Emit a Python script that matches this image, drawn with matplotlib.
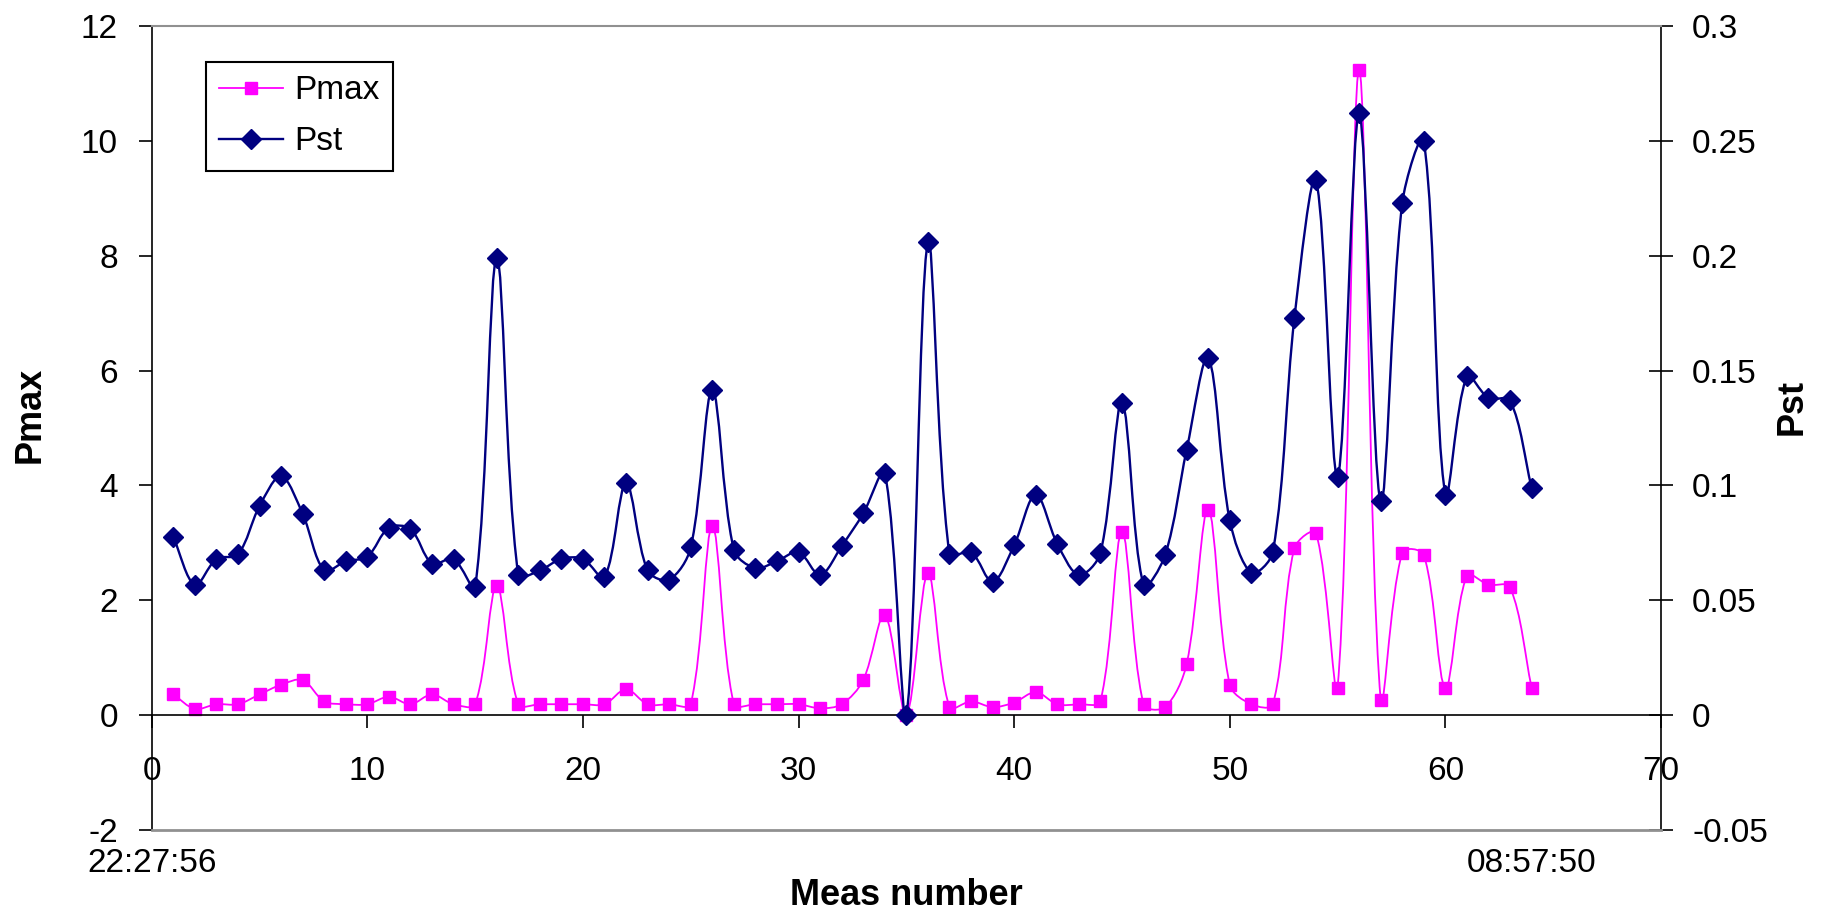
import numpy as np
import matplotlib
matplotlib.use('Agg')
import matplotlib.pyplot as plt
from matplotlib.path import Path
from matplotlib.patches import PathPatch
from matplotlib.lines import Line2D
from matplotlib.ticker import FormatStrFormatter
import matplotlib.transforms as mtransforms

plt.rcParams['font.family'] = ['Liberation Sans', 'DejaVu Sans']
plt.rcParams['axes.unicode_minus'] = False

meas = list(range(1, 65))

pmax = [0.36, 0.11, 0.19, 0.19, 0.36, 0.53, 0.61, 0.24, 0.19, 0.19,
        0.32, 0.19, 0.36, 0.19, 0.19, 2.25, 0.19, 0.19, 0.19, 0.19,
        0.19, 0.45, 0.19, 0.19, 0.19, 3.29, 0.19, 0.19, 0.19, 0.19,
        0.12, 0.19, 0.61, 1.75, 0.0, 2.47, 0.14, 0.24, 0.14, 0.22,
        0.40, 0.19, 0.19, 0.24, 3.19, 0.19, 0.14, 0.89, 3.58, 0.53,
        0.19, 0.19, 2.91, 3.17, 0.48, 11.23, 0.27, 2.83, 2.79, 0.48,
        2.43, 2.27, 2.23, 0.48]

pst = [0.0776, 0.0567, 0.068, 0.070, 0.091, 0.104, 0.0876, 0.063, 0.067, 0.069,
       0.0816, 0.081, 0.066, 0.068, 0.0557, 0.199, 0.061, 0.063, 0.068, 0.068,
       0.060, 0.101, 0.063, 0.059, 0.073, 0.1415, 0.072, 0.064, 0.067, 0.071,
       0.061, 0.0736, 0.0878, 0.1055, 0.0, 0.206, 0.070, 0.071, 0.058, 0.074,
       0.096, 0.0746, 0.061, 0.0706, 0.136, 0.0567, 0.0696, 0.1155, 0.1556, 0.0848,
       0.062, 0.071, 0.173, 0.233, 0.1036, 0.262, 0.093, 0.223, 0.250, 0.096,
       0.1475, 0.138, 0.137, 0.099]

time_labels = ["22:27:56", "08:57:50"]
time_pos = [0, 64]

PINK = '#FF00FF'
NAVY = '#000080'


def smooth_path(axis, x, y):
    # Excel style smoothed line, worked out in screen space so that
    # the handles shrink next to short segments (less overshoot)
    trans = axis.transData
    p = trans.transform(np.column_stack([x, y]))
    n = len(p)
    before = np.zeros_like(p)
    after = np.zeros_like(p)
    for i in range(n):
        prev = p[i - 1] if i > 0 else p[i]
        nxt = p[i + 1] if i < n - 1 else p[i]
        d1 = np.hypot(*(p[i] - prev))
        d2 = np.hypot(*(nxt - p[i]))
        tang = nxt - prev
        if d1 + d2 == 0:
            before[i] = after[i] = p[i]
            continue
        before[i] = p[i] - tang * d1 / (d1 + d2) / 3.0
        after[i] = p[i] + tang * d2 / (d1 + d2) / 3.0
    verts = [p[0]]
    codes = [Path.MOVETO]
    for i in range(n - 1):
        verts += [after[i], before[i + 1], p[i + 1]]
        codes += [Path.CURVE4] * 3
    inv = trans.inverted()
    return Path(inv.transform(np.array(verts)), codes)


fig = plt.figure(figsize=(18.48, 9.14), dpi=100)
ax = fig.add_axes([0.0821, 0.0919, 0.8167, 0.8797])
ax2 = ax.twinx()

ax.set_xlim(0, 70)
ax.set_ylim(-2, 12)
ax2.set_ylim(-0.05, 0.3)

# Pmax on the primary axis
ax.add_patch(PathPatch(smooth_path(ax, meas, pmax), fill=False, edgecolor=PINK, lw=1.3))
ax.plot(meas, pmax, linestyle='none', marker='s', ms=9, color=PINK)

# Pst on the secondary axis
ax2.add_patch(PathPatch(smooth_path(ax2, meas, pst), fill=False, edgecolor=NAVY, lw=1.7))
ax2.plot(meas, pst, linestyle='none', marker='D', ms=10, color=NAVY)

ax.set_xlim(0, 70)
ax.set_ylim(-2, 12)
ax2.set_ylim(-0.05, 0.3)
ax.set_xticks(np.arange(0, 71, 10))
ax.set_yticks(np.arange(-2, 13, 2))
ax2.set_yticks(np.arange(-0.05, 0.31, 0.05))
ax.yaxis.set_major_formatter(FormatStrFormatter('%g'))
ax2.yaxis.set_major_formatter(FormatStrFormatter('%g'))

# spines: x axis crosses at 0, grey frame at top and bottom
ax.spines['bottom'].set_position(('data', 0))
ax.spines['top'].set_visible(False)
ax.spines['right'].set_visible(False)
ax.spines['left'].set_linewidth(1.2)
ax.spines['bottom'].set_linewidth(1.2)
ax2.spines['left'].set_visible(False)
ax2.spines['right'].set_linewidth(1.2)
ax2.spines['top'].set_color('#909090')
ax2.spines['bottom'].set_color('#909090')
ax2.spines['top'].set_linewidth(1.5)
ax2.spines['bottom'].set_linewidth(2.0)

ax.tick_params(axis='y', direction='out', length=9.4, width=1.2, pad=15, labelsize=24)
ax.tick_params(axis='x', direction='out', length=9.4, width=1.2, pad=20, labelsize=24)
ax2.tick_params(axis='y', direction='inout', length=17, width=1.2, pad=14, labelsize=24)

ax.set_ylabel("Pmax", fontsize=26, fontweight='bold')
ax.yaxis.set_label_coords(-0.069, 0.516)
ax2.set_ylabel("Pst", fontsize=26, fontweight='bold')
ax2.yaxis.set_label_coords(1.075, 0.526)
ax.set_xlabel("Meas number", fontsize=26, fontweight='bold')
ax.xaxis.set_label_coords(0.5, -0.06)

trans = mtransforms.blended_transform_factory(ax.transData, ax.transAxes)
for xp, lab in zip(time_pos, time_labels):
    ax.text(xp, -0.042, lab, transform=trans, ha='center', va='center', fontsize=24)

handles = [Line2D([], [], color=PINK, lw=1.3, marker='s', ms=9),
           Line2D([], [], color=NAVY, lw=1.7, marker='D', ms=10)]
leg = ax2.legend(handles, ["Pmax", "Pst"], loc='upper left', bbox_to_anchor=(0.036, 0.955),
                 borderaxespad=0, fontsize=24, fancybox=False, framealpha=1,
                 edgecolor='black', handlelength=1.9, handletextpad=0.35,
                 labelspacing=0.6, borderpad=0.4)
leg.get_frame().set_linewidth(1.5)

fig.savefig("out.png", dpi=100)
